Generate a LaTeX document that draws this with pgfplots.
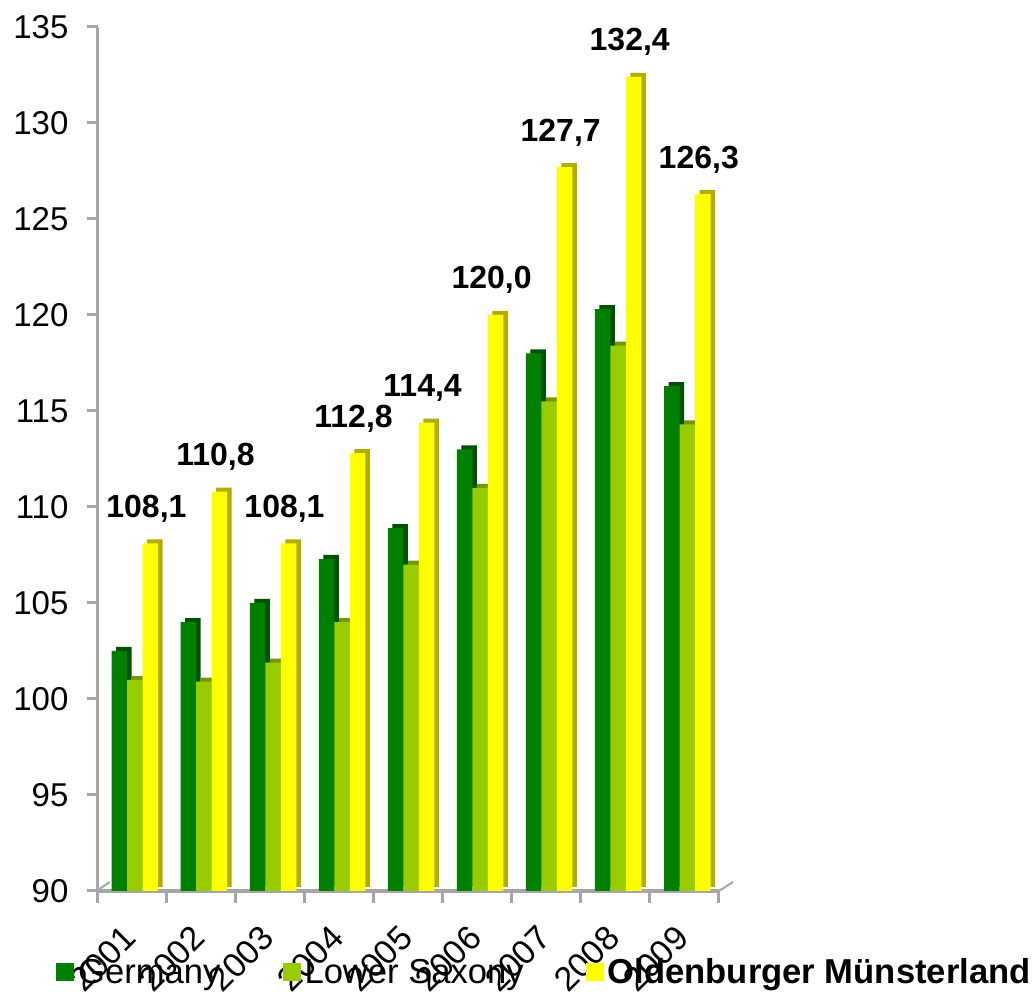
\documentclass[border=0pt]{standalone}
\usepackage{fontspec}
\setmainfont{Liberation Sans}
\usepackage{pgfplots}
\usepackage{pgfplotstable}
\pgfplotsset{compat=1.18}

\definecolor{deG}{RGB}{0,128,0}
\definecolor{deGs}{RGB}{0,82,0}
\definecolor{nsG}{RGB}{153,204,0}
\definecolor{nsGs}{RGB}{118,150,0}
\definecolor{omY}{RGB}{255,255,0}
\definecolor{omYs}{RGB}{180,172,0}
\definecolor{axgray}{RGB}{166,166,166}

\pgfplotsset{sq legend/.style={legend image code/.code={\fill[##1] (0pt,-9pt) rectangle (18pt,9pt);}}}

\pgfplotstableread{
x de ns om
0 102.5 101.0 108.1
1 104.0 100.9 110.8
2 105.0 101.9 108.1
3 107.3 104.0 112.8
4 108.9 107.0 114.4
5 113.0 111.0 120.0
6 118.0 115.5 127.7
7 120.3 118.4 132.4
8 116.3 114.3 126.3
}\data

\begin{document}
\begin{tikzpicture}
\path[use as bounding box] (0,0) rectangle (1034pt,992pt);
\begin{axis}[
  at={(97.6pt,101pt)}, anchor=south west,
  scale only axis, width=621.4pt, height=864pt,
  xmin=-0.5, xmax=8.5, ymin=90, ymax=135,
  ytick={90,95,...,135},
  xtick={0,...,8},
  xticklabels={2001,2002,2003,2004,2005,2006,2007,2008,2009},
  minor xtick={-0.5,0.5,...,8.5},
  axis x line*=bottom, axis y line*=left,
  axis line style={axgray, line width=3.5pt},
  tick align=outside,
  major tick length=11pt, minor tick length=12pt,
  major x tick style={draw=none},
  minor x tick style={axgray, line width=3pt},
  major y tick style={axgray, line width=3pt},
  /pgf/number format/assume math mode=true,
  yticklabel style={inner sep=0pt, xshift=-18pt, font=\fontsize{33}{36}\selectfont},
  xticklabel style={inner sep=0pt, anchor=east, xshift=-2pt, yshift=-30pt, rotate=45,
    font=\fontsize{34}{36}\selectfont},
  ybar, bar width=15.5pt,
  clip mode=individual,
  legend columns=3,
  legend style={at={(-0.0669,-0.09375)}, anchor=west, draw=none, fill=none,
    inner sep=0pt, font=\fontsize{34.6}{37}\selectfont,
    nodes={inner sep=4pt},
    /tikz/every even column/.append style={column sep=58pt}},
]
\addplot[fill=deGs, draw=none, bar shift=-12.7pt, xshift=4.5pt, yshift=4pt, forget plot] table[x=x,y=de]{\data};
\addplot[fill=deG, draw=none, bar shift=-12.7pt, sq legend] table[x=x,y=de]{\data};
\addlegendentry{Germany}
\addplot[fill=nsGs, draw=none, bar shift=2.8pt, xshift=4.5pt, yshift=4pt, forget plot] table[x=x,y=ns]{\data};
\addplot[fill=nsG, draw=none, bar shift=2.8pt, sq legend] table[x=x,y=ns]{\data};
\addlegendentry{Lower Saxony}
\addplot[fill=omYs, draw=none, bar shift=18.3pt, xshift=4.5pt, yshift=4pt, forget plot] table[x=x,y=om]{\data};
\addplot[fill=omY, draw=none, bar shift=18.3pt, sq legend,
  nodes near coords,
  every node near coord/.append style={font=\fontsize{32}{34}\selectfont\bfseries,
    anchor=base, inner sep=0pt, xshift=-4pt, yshift=26pt, black,
    /pgf/number format/fixed, /pgf/number format/fixed zerofill,
    /pgf/number format/precision=1, /pgf/number format/use comma}] table[x=x,y=om]{\data};
\addlegendentry{\textbf{Oldenburger Münsterland}}
\draw[axgray, line width=2pt] (axis description cs:1,0) -- ++(14pt,9pt);
\draw[axgray, line width=2pt] (axis description cs:0,0) ++(2pt,2pt) -- ++(10pt,7pt);
\end{axis}
\end{tikzpicture}
\end{document}
